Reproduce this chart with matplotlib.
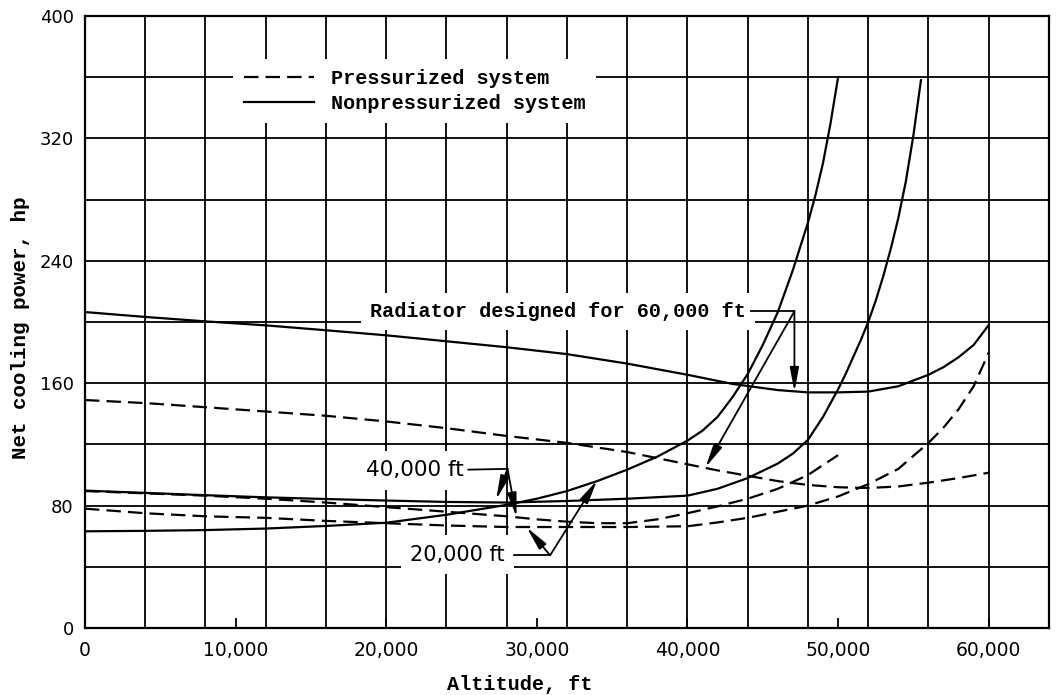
import matplotlib
matplotlib.use("Agg")
import matplotlib.pyplot as plt
from matplotlib.lines import Line2D
import numpy as np

# ---------------- data ----------------
alt_n60 = [0, 4000, 8000, 12000, 16000, 20000, 24000, 28000, 32000, 36000, 40000,
           43000, 46000, 48000, 50000, 52000, 54000, 56000, 57000, 58000, 59000, 60000]
n60 = [206.5, 203.3, 200.4, 197.8, 194.6, 191.3, 187.4, 183.5, 179, 172.8, 165.5,
       159.5, 155.5, 154, 154, 154.5, 158, 165.5, 170.5, 177, 185, 198]

alt_n40 = [0, 4000, 8000, 12000, 16000, 20000, 24000, 28000, 32000, 36000, 40000, 42000,
           44000, 46000, 47000, 48000, 49000, 50000, 50500, 51000, 51500, 52000, 52500,
           53000, 53500, 54000, 54500, 55000, 55500]
n40 = [89.8, 88.3, 86.8, 85.4, 84.3, 83.3, 82.4, 82, 83, 84.5, 86.5, 91,
       98, 107.5, 114, 123, 138, 156, 166, 177, 188, 200, 214,
       230, 248, 268, 292, 322, 358]

alt_n20 = [0, 4000, 8000, 12000, 16000, 20000, 24000, 28000, 30000, 32000, 34000, 36000,
           38000, 40000, 41000, 42000, 43000, 44000, 45000, 46000, 47000, 48000, 48500,
           49000, 49500, 50000]
n20 = [63.2, 63.5, 64, 65, 66.7, 68.8, 74, 80.5, 84.5, 89.5, 96, 103.5,
       112, 122.5, 129, 138, 151, 166, 185, 206.5, 234, 265, 283,
       304, 330, 360]

alt_p60 = [0, 4000, 8000, 12000, 16000, 20000, 24000, 28000, 32000, 36000, 40000, 42000,
           44000, 46000, 48000, 50000, 52000, 54000, 56000, 58000, 60000]
p60 = [149, 147, 144.3, 141.5, 138.7, 135, 130.6, 125.5, 121, 115, 107, 103,
       99.5, 96, 93.5, 92, 91.5, 92.5, 95, 98, 101.5]

alt_p40 = [0, 4000, 8000, 12000, 16000, 20000, 24000, 28000, 30000, 32000, 34000, 36000,
           38000, 40000, 42000, 44000, 46000, 48000, 50000]
p40 = [89.5, 88, 86.5, 84.5, 82, 79, 76, 73, 71, 69.5, 68.5, 68.5,
       71, 75, 79.5, 84.5, 91, 100, 113]

alt_p20 = [0, 4000, 8000, 12000, 16000, 20000, 24000, 28000, 32000, 36000, 40000, 42000,
           44000, 46000, 48000, 50000, 52000, 54000, 56000, 57000, 58000, 59000, 60000]
p20 = [78, 75, 73, 72, 70, 68.5, 67, 66, 66, 66, 66.5, 69,
       72, 76, 80, 86, 94, 104, 121, 131, 143, 158, 180]

x_ticks = [0, 10000, 20000, 30000, 40000, 50000, 60000]
x_tick_labels = ["0", "10,000", "20,000", "30,000", "40,000", "50,000", "60,000"]
y_ticks = [0, 80, 160, 240, 320, 400]
y_tick_labels = ["0", "80", "160", "240", "320", "400"]

legend_labels = ["Pressurized system", "Nonpressurized system"]
label_60 = "Radiator designed for 60,000 ft"
label_40 = "40,000 ft"
label_20 = "20,000 ft"

# ---------------- figure ----------------
MONO = "Liberation Mono"
fig = plt.figure(figsize=(10.57, 6.95), dpi=100)
ax = fig.add_axes([0.0804, 0.0964, 0.912, 0.8806])
ax.set_xlim(0, 64000)
ax.set_ylim(0, 400)

# grid
ax.set_xticks(np.arange(0, 64001, 4000), minor=True)
ax.set_yticks(np.arange(0, 401, 40), minor=True)
ax.xaxis.remove_overlapping_locs = False
ax.yaxis.remove_overlapping_locs = False
ax.set_axisbelow(True)
ax.grid(which="minor", color="black", lw=1.3)
ax.tick_params(which="minor", length=0)

ax.set_xticks(x_ticks)
ax.set_xticklabels(x_tick_labels, fontsize=13.5, family="DejaVu Sans")
ax.set_yticks(y_ticks)
ax.set_yticklabels(y_tick_labels, fontsize=13, family="DejaVu Sans")
ax.tick_params(axis="x", which="major", direction="in", length=7, width=1.3, pad=9)
ax.tick_params(axis="y", which="major", length=0, pad=8)
for s in ax.spines.values():
    s.set_linewidth(1.6)

lw = 1.6
dash = (0, (6.5, 3.2))
ax.plot(alt_n60, n60, color="black", lw=lw)
ax.plot(alt_n40, n40, color="black", lw=lw)
ax.plot(alt_n20, n20, color="black", lw=lw)
ax.plot(alt_p60, p60, color="black", lw=lw, ls=dash)
ax.plot(alt_p40, p40, color="black", lw=lw, ls=dash)
ax.plot(alt_p20, p20, color="black", lw=lw, ls=dash)

# legend
handles = [Line2D([], [], color="black", lw=lw, ls=dash),
           Line2D([], [], color="black", lw=lw)]
leg = ax.legend(handles, legend_labels, loc="center", bbox_to_anchor=(0.342, 0.877),
                prop={"family": MONO, "weight": "bold", "size": 14.5},
                frameon=True, facecolor="white", edgecolor="none", framealpha=1,
                fancybox=False, handlelength=3.5, handletextpad=0.85,
                labelspacing=0.3, borderpad=0.5)

# labels
ax.set_xlabel("Altitude, ft", family=MONO, weight="bold", fontsize=14.5)
ax.xaxis.set_label_coords(0.451, -0.093)
ax.xaxis.label.set_va("center")
ax.set_ylabel("Net cooling power, hp", family=MONO, weight="bold", fontsize=15)
ax.yaxis.set_label_coords(-0.067, 0.49)
ax.yaxis.label.set_va("center")

box = dict(facecolor="white", edgecolor="none", boxstyle="square,pad=0.45")
arrow = dict(arrowstyle="-|>,head_length=0.9,head_width=0.17", color="black",
             lw=1.3, shrinkA=0, shrinkB=0, mutation_scale=16)

# Radiator designed for 60,000 ft
ax.text(43900, 207, label_60, ha="right", va="center", family=MONO, weight="bold",
        fontsize=14.5, bbox=box, zorder=1.5)
ax.plot([44250, 47100], [207, 207], color="black", lw=1.3)
ax.annotate("", xy=(47100, 154.5), xytext=(47100, 207), arrowprops=arrow)
ax.annotate("", xy=(41200, 105), xytext=(47100, 207), arrowprops=arrow)

# 40,000 ft
ax.text(25150, 103, label_40, ha="right", va="center", family="DejaVu Sans",
        fontsize=15.5, bbox=box, zorder=1.5)
ax.plot([25450, 28050], [103.5, 104], color="black", lw=1.3)
ax.annotate("", xy=(27300, 84), xytext=(28050, 104), arrowprops=arrow)
ax.annotate("", xy=(28650, 72.5), xytext=(28050, 104), arrowprops=arrow)

# 20,000 ft
ax.text(27880, 48, label_20, ha="right", va="center", family="DejaVu Sans",
        fontsize=15, bbox=box, zorder=1.5)
ax.plot([28500, 30880], [47.5, 47.5], color="black", lw=1.3)
ax.annotate("", xy=(29320, 65.8), xytext=(30880, 47.5), arrowprops=arrow)
ax.annotate("", xy=(34000, 96.5), xytext=(30880, 47.5), arrowprops=arrow)

fig.savefig("out.png", dpi=100)
